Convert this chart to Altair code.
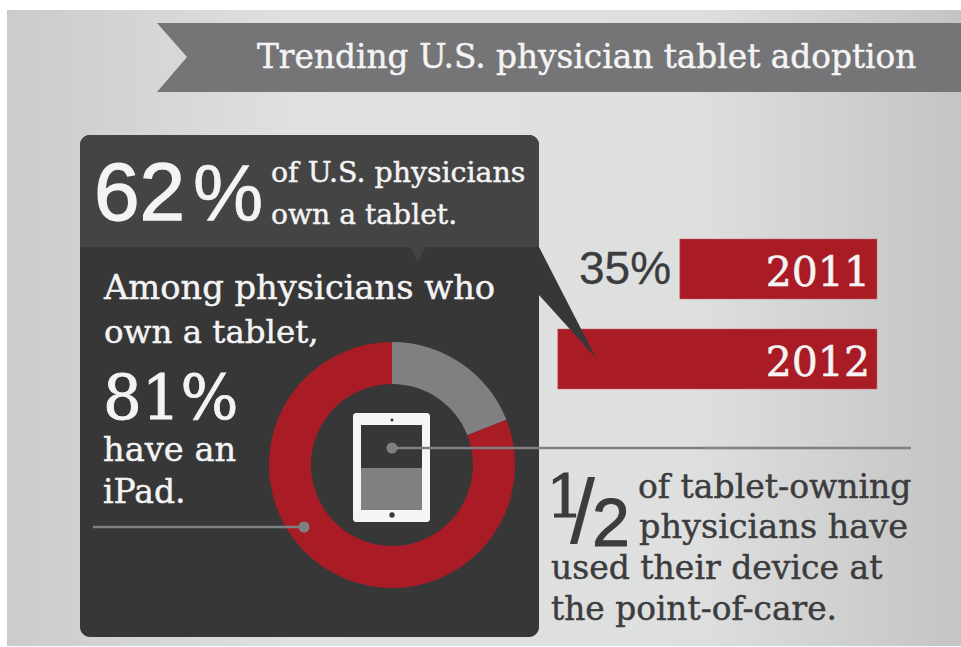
import altair as alt
import pandas as pd

# Survey figures
YEARS = ["2011", "2012"]
ADOPTION = [35, 62]
IPAD_SHARE = [19, 81]
IPAD_GROUP = ["other", "ipad"]

TITLE = "Trending U.S. physician tablet adoption"

W, H = 961, 647
SERIF = "DejaVu Serif"
SANS = "Liberation Sans"
WHITE = "#f4f4f4"
INK = "#3c3c3e"
RED = "#a91c26"
GREY = "#808082"
PANEL_TOP = "#444445"
PANEL = "#373738"


def label(text, x, y, size, color=WHITE, font=SERIF, align="left", heft=0.45):
    return alt.Chart().mark_text(
        text=text, font=font, fontSize=size, color=color, align=align, baseline="alphabetic",
        stroke=color, strokeWidth=heft,
    ).encode(x=alt.value(x), y=alt.value(y))


def box(x0, x1, y0, y1, fill, radius=0):
    return alt.Chart().mark_rect(fill=fill, cornerRadius=radius).encode(
        x=alt.value(x0), x2=alt.value(x1), y=alt.value(y0), y2=alt.value(y1)
    )


def poly(points, fill):
    ring = [list(p) for p in points] + [list(points[0])]
    feature = {"type": "Feature", "properties": {}, "geometry": {"type": "Polygon", "coordinates": [ring]}}
    return alt.Chart(alt.Data(values=[feature])).mark_geoshape(fill=fill, stroke=None, strokeWidth=0)


def dot(x, y, size, color):
    return alt.Chart().mark_point(filled=True, size=size, color=color, opacity=1).encode(
        x=alt.value(x), y=alt.value(y)
    )


def hline(x0, x1, y, color, width):
    return alt.Chart().mark_rule(color=color, strokeWidth=width).encode(
        x=alt.value(x0), x2=alt.value(x1), y=alt.value(y)
    )


backdrop = alt.Chart().mark_rect(
    fill=alt.Gradient(
        gradient="linear", x1=0, x2=1, y1=0, y2=0,
        stops=[
            alt.GradientStop(color="#cbcbcb", offset=0),
            alt.GradientStop(color="#dfe0e0", offset=0.3),
            alt.GradientStop(color="#dedfdf", offset=0.72),
            alt.GradientStop(color="#c4c4c4", offset=1),
        ],
    )
).encode(x=alt.value(7), x2=alt.value(961), y=alt.value(10), y2=alt.value(646))

ribbon = poly([(157, 23), (961, 23), (961, 92), (157, 92), (187, 57)], "#757577")

pointer = poly([(520, 247), (539, 247), (596, 358), (539, 295)], PANEL)
notch = poly([(410, 247), (426, 247), (418, 261)], PANEL_TOP)

# Adoption bars: the scale's zero sits off to the right of the shared bar end
bars_df = pd.DataFrame({"year": YEARS, "pct": ADOPTION})
bar_x = alt.X("pct:Q", axis=None, scale=alt.Scale(domain=[-8.63, 100], range=[877, 386]))
bar_y = alt.Y("year:N", axis=None, scale=alt.Scale(domain=YEARS, range=[239, 389], paddingInner=1 / 3, paddingOuter=0))
bars = alt.Chart(bars_df).mark_bar(color=RED, stroke="#c9646b", strokeWidth=0.5).encode(
    x=bar_x, x2=alt.X2(datum=-8.63), y=bar_y
)
year_labels = alt.Chart(bars_df).mark_text(
    font=SERIF, fontSize=41, color=WHITE, stroke=WHITE, strokeWidth=0.5, align="right", baseline="alphabetic"
).encode(
    x=alt.value(870),
    y=alt.Y("year:N", axis=None, scale=alt.Scale(type="point", domain=YEARS, range=[286, 376], padding=0)),
    text="year:N",
)

# Ring showing the iPad share among tablet owners
ring_df = pd.DataFrame({"group": IPAD_GROUP, "share": IPAD_SHARE, "rank": [0, 1]})
ring = alt.Chart(ring_df).mark_arc(innerRadius=81, outerRadius=123).encode(
    theta=alt.Theta("share:Q", stack=True),
    color=alt.Color("group:N", legend=None, scale=alt.Scale(domain=IPAD_GROUP, range=[GREY, RED])),
    order=alt.Order("rank:Q"),
    x=alt.value(392),
    y=alt.value(465),
)

layers = [
    backdrop,
    ribbon,
    label(TITLE, 257, 68, 32.75),
    box(80, 539, 135, 637, PANEL, 10),
    box(80, 539, 135, 247, PANEL_TOP, 10),
    box(80, 539, 200, 247, PANEL_TOP),
    notch,
    bars,
    pointer,
    year_labels,
    label(f"{ADOPTION[1]}", 94, 220, 82, font=SANS, heft=1.3),
    label("%", 193, 221, 79, font=SANS, heft=0.6),
    label("of U.S. physicians", 271, 182, 28.4),
    label("own a tablet.", 271, 224, 28.2),
    label("Among physicians who", 104, 299, 33.7),
    label("own a tablet,", 104, 343, 32.5),
    label(f"{IPAD_SHARE[1]}%", 103, 419, 61, heft=0.8),
    label("have an", 103, 461, 33.7),
    label("iPad.", 103, 503, 33),
    ring,
    box(353, 430, 413, 522, "#f5f5f6", 3),
    box(361, 422, 425, 468, PANEL),
    box(361, 422, 468, 510, GREY),
    dot(392, 420, 10, PANEL),
    dot(392, 515, 28, PANEL),
    hline(93, 304, 527, GREY, 2.5),
    dot(304, 527, 125, GREY),
    hline(392, 911, 448, GREY, 2.5),
    dot(392, 448, 125, GREY),
    label(f"{ADOPTION[0]}%", 579, 284, 46, color=INK, font=SANS, heft=0.3),
    label("1", 546, 518, 60, color=INK, heft=1),
    label("/", 570, 543, 90, color=INK, font=SANS, heft=0.2),
    label("2", 592, 546, 68, color=INK, font=SANS, heft=1),
    label("of tablet-owning", 638, 498, 33, color=INK),
    label("physicians have", 639, 538, 33.5, color=INK),
    label("used their device at", 551, 579, 33, color=INK),
    label("the point-of-care.", 551, 620, 32.8, color=INK),
]

chart = (
    alt.layer(*layers)
    .resolve_scale(y="independent", color="independent")
    .properties(
        width=W,
        height=H,
        padding=0,
        background="white",
        autosize=alt.AutoSizeParams(type="none"),
        projection=alt.Projection(type="identity", scale=1, translate=[0, 0]),
    )
    .configure_view(stroke=None)
)

chart.save("out.html", embed_options={"renderer": "svg", "actions": False})
